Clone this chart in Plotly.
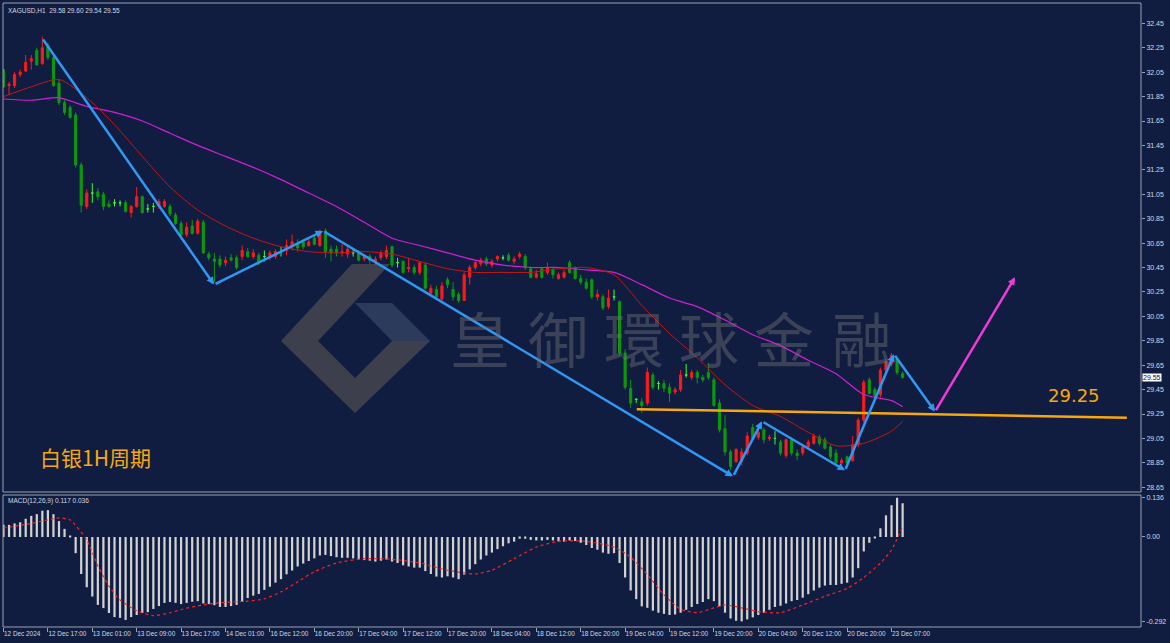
import plotly.graph_objects as go

W, H = 1170, 643


def px(x):
    return x / W


def py(y):
    return 1 - y / H


# ---------------- data ----------------
time_labels = ["12 Dec 2024", "12 Dec 17:00", "13 Dec 01:00", "13 Dec 09:00", "13 Dec 17:00",
               "14 Dec 01:00", "16 Dec 12:00", "16 Dec 20:00", "17 Dec 04:00", "17 Dec 12:00",
               "17 Dec 20:00", "18 Dec 04:00", "18 Dec 12:00", "18 Dec 20:00", "19 Dec 04:00",
               "19 Dec 12:00", "19 Dec 20:00", "20 Dec 04:00", "20 Dec 12:00", "20 Dec 20:00",
               "23 Dec 07:00"]
label_bars = [0, 8, 16, 24, 32, 40, 48, 56, 64, 72, 80, 88, 96, 104, 112, 120, 128, 136, 144, 152, 160]

opens = [32.07, 31.94, 31.94, 32.03, 32.06, 32.14, 32.23, 32.12, 32.27, 32.17,
         31.96, 31.80, 31.76, 31.70, 31.29, 30.95, 31.06, 31.07, 31.05, 30.97,
         30.98, 30.98, 30.98, 30.90, 30.95, 31.03, 30.93, 30.95, 30.95, 30.95,
         30.95, 30.88, 30.81, 30.72, 30.79, 30.73, 30.82, 30.56, 30.52, 30.52,
         30.49, 30.53, 30.53, 30.54, 30.58, 30.54, 30.55, 30.54, 30.54, 30.54,
         30.58, 30.59, 30.62, 30.65, 30.66, 30.63, 30.69, 30.63, 30.75, 30.60,
         30.60, 30.57, 30.56, 30.57, 30.57, 30.52, 30.54, 30.50, 30.53, 30.54,
         30.62, 30.49, 30.50, 30.44, 30.45, 30.41, 30.47, 30.24, 30.27, 30.19,
         30.35, 30.27, 30.23, 30.18, 30.37, 30.45, 30.48, 30.52, 30.47, 30.52,
         30.53, 30.55, 30.50, 30.54, 30.54, 30.44, 30.37, 30.44, 30.41, 30.43,
         30.36, 30.37, 30.49, 30.45, 30.36, 30.33, 30.35, 30.21, 30.21, 30.13,
         30.21, 30.17, 29.75, 29.46, 29.37, 29.35, 29.34, 29.57, 29.50, 29.50,
         29.47, 29.43, 29.45, 29.57, 29.55, 29.59, 29.55, 29.59, 29.53, 29.34,
         29.13, 28.94, 28.86, 28.86, 28.93, 29.14, 29.06, 29.12, 29.05, 29.05,
         29.02, 28.91, 29.04, 28.93, 28.93, 28.98, 29.01, 29.06, 29.04, 28.98,
         28.93, 28.85, 28.90, 28.87, 29.00, 29.20, 29.53, 29.45, 29.41, 29.61,
         29.66, 29.70, 29.58]
highs = [32.08, 31.97, 32.05, 32.07, 32.19, 32.19, 32.25, 32.34, 32.29, 32.18,
         31.99, 31.82, 31.78, 31.72, 31.31, 31.09, 31.14, 31.10, 31.07, 31.00,
         31.01, 31.00, 31.00, 30.96, 31.11, 31.04, 30.97, 30.98, 31.01, 31.01,
         30.97, 30.90, 30.83, 30.82, 30.84, 30.85, 30.84, 30.58, 30.57, 30.55,
         30.54, 30.56, 30.55, 30.63, 30.61, 30.60, 30.57, 30.59, 30.59, 30.60,
         30.62, 30.68, 30.72, 30.68, 30.68, 30.69, 30.71, 30.76, 30.77, 30.63,
         30.63, 30.64, 30.63, 30.60, 30.59, 30.56, 30.56, 30.54, 30.59, 30.63,
         30.63, 30.53, 30.51, 30.53, 30.47, 30.50, 30.49, 30.31, 30.30, 30.33,
         30.37, 30.33, 30.25, 30.41, 30.47, 30.50, 30.53, 30.54, 30.52, 30.55,
         30.55, 30.57, 30.54, 30.58, 30.56, 30.46, 30.43, 30.45, 30.49, 30.45,
         30.41, 30.43, 30.51, 30.46, 30.39, 30.36, 30.36, 30.27, 30.23, 30.27,
         30.27, 30.18, 29.78, 29.53, 29.38, 29.38, 29.63, 29.59, 29.52, 29.53,
         29.50, 29.47, 29.61, 29.66, 29.61, 29.61, 29.57, 29.67, 29.55, 29.37,
         29.24, 28.96, 28.97, 28.97, 29.10, 29.17, 29.13, 29.14, 29.08, 29.11,
         29.04, 29.05, 29.06, 28.96, 29.00, 29.04, 29.09, 29.08, 29.06, 29.00,
         28.96, 28.89, 28.91, 29.07, 29.22, 29.53, 29.55, 29.47, 29.63, 29.70,
         29.75, 29.71, 29.60]
lows = [31.92, 31.86, 31.92, 32.01, 32.05, 32.07, 32.10, 32.11, 32.15, 31.93,
        31.78, 31.70, 31.67, 31.27, 30.90, 30.93, 30.98, 31.00, 30.92, 30.94,
        30.95, 30.95, 30.90, 30.86, 30.94, 30.89, 30.90, 30.90, 30.93, 30.94,
        30.87, 30.80, 30.70, 30.70, 30.72, 30.72, 30.56, 30.51, 30.33, 30.45,
        30.46, 30.50, 30.43, 30.51, 30.53, 30.52, 30.47, 30.50, 30.51, 30.52,
        30.54, 30.55, 30.59, 30.58, 30.60, 30.62, 30.63, 30.62, 30.53, 30.50,
        30.54, 30.54, 30.53, 30.54, 30.50, 30.50, 30.48, 30.47, 30.51, 30.52,
        30.45, 30.45, 30.40, 30.41, 30.39, 30.39, 30.27, 30.22, 30.19, 30.18,
        30.28, 30.18, 30.16, 30.18, 30.31, 30.43, 30.46, 30.46, 30.45, 30.50,
        30.51, 30.50, 30.48, 30.52, 30.43, 30.36, 30.36, 30.36, 30.39, 30.36,
        30.35, 30.36, 30.40, 30.35, 30.31, 30.27, 30.19, 30.18, 30.10, 30.11,
        30.18, 29.73, 29.45, 29.30, 29.34, 29.26, 29.32, 29.45, 29.45, 29.43,
        29.35, 29.41, 29.43, 29.55, 29.53, 29.50, 29.51, 29.53, 29.31, 29.10,
        28.91, 28.79, 28.85, 28.83, 28.91, 29.04, 29.04, 29.01, 29.03, 29.00,
        28.91, 28.89, 28.91, 28.87, 28.91, 28.96, 29.00, 28.99, 28.96, 28.88,
        28.83, 28.83, 28.82, 28.86, 28.98, 29.18, 29.41, 29.37, 29.39, 29.59,
        29.64, 29.57, 29.54]
closes = [31.93, 31.95, 32.03, 32.05, 32.13, 32.16, 32.11, 32.25, 32.17, 31.94,
          31.80, 31.72, 31.68, 31.29, 30.96, 31.06, 31.06, 31.03, 30.95, 30.95,
          30.98, 30.98, 30.91, 30.95, 31.03, 30.90, 30.93, 30.95, 30.99, 30.99,
          30.89, 30.81, 30.72, 30.78, 30.73, 30.83, 30.57, 30.53, 30.50, 30.47,
          30.51, 30.51, 30.45, 30.59, 30.54, 30.57, 30.49, 30.54, 30.57, 30.58,
          30.58, 30.63, 30.66, 30.61, 30.62, 30.66, 30.64, 30.73, 30.58, 30.57,
          30.57, 30.58, 30.60, 30.57, 30.51, 30.54, 30.51, 30.52, 30.57, 30.59,
          30.47, 30.49, 30.41, 30.45, 30.41, 30.49, 30.28, 30.28, 30.21, 30.30,
          30.31, 30.21, 30.18, 30.39, 30.45, 30.49, 30.51, 30.48, 30.50, 30.54,
          30.53, 30.51, 30.52, 30.56, 30.45, 30.37, 30.40, 30.37, 30.45, 30.39,
          30.39, 30.41, 30.41, 30.36, 30.33, 30.28, 30.21, 30.23, 30.12, 30.20,
          30.21, 29.75, 29.47, 29.34, 29.37, 29.32, 29.59, 29.47, 29.50, 29.46,
          29.42, 29.45, 29.57, 29.57, 29.59, 29.55, 29.53, 29.55, 29.32, 29.12,
          28.94, 28.82, 28.96, 28.94, 29.07, 29.05, 29.10, 29.04, 29.06, 29.05,
          28.93, 29.04, 28.93, 28.91, 28.98, 29.02, 29.07, 29.01, 28.97, 28.90,
          28.85, 28.87, 28.85, 29.00, 29.20, 29.51, 29.42, 29.40, 29.61, 29.68,
          29.73, 29.59, 29.55]
bar_index = list(range(len(closes)))

ma_index = [0, 5, 10, 15, 20, 25, 30, 35, 40, 45, 50, 55, 60, 65, 70, 75, 80, 85, 90, 95,
            100, 105, 110, 115, 120, 125, 130, 135, 140, 145, 150, 155, 160, 162]
ma_fast = [31.85, 31.93, 31.99, 31.84, 31.62, 31.36, 31.11, 30.92, 30.79, 30.69,
           30.62, 30.58, 30.57, 30.58, 30.56, 30.50, 30.44, 30.41, 30.41, 30.41,
           30.44, 30.45, 30.39, 30.14, 29.91, 29.71, 29.49, 29.32, 29.23, 29.10,
           28.99, 29.01, 29.11, 29.19]
ma_slow = [31.83, 31.82, 31.84, 31.77, 31.72, 31.65, 31.55, 31.45, 31.36, 31.27,
           31.17, 31.06, 30.95, 30.82, 30.69, 30.63, 30.57, 30.51, 30.47, 30.45,
           30.45, 30.43, 30.41, 30.31, 30.20, 30.13, 30.02, 29.90, 29.81, 29.69,
           29.58, 29.41, 29.36, 29.31]

macd_hist = [0.042, 0.042, 0.047, 0.051, 0.063, 0.073, 0.079, 0.091, 0.093, 0.079,
             0.055, 0.028, 0.003, -0.056, -0.128, -0.174, -0.206, -0.235, -0.246, -0.263,
             -0.277, -0.280, -0.287, -0.277, -0.270, -0.263, -0.260, -0.249, -0.239, -0.228,
             -0.225, -0.228, -0.232, -0.228, -0.224, -0.222, -0.230, -0.232, -0.236, -0.242,
             -0.242, -0.239, -0.235, -0.225, -0.211, -0.203, -0.197, -0.183, -0.172, -0.158,
             -0.146, -0.129, -0.116, -0.102, -0.092, -0.083, -0.074, -0.064, -0.062, -0.066,
             -0.070, -0.072, -0.072, -0.074, -0.078, -0.080, -0.082, -0.085, -0.082, -0.078,
             -0.085, -0.090, -0.098, -0.102, -0.106, -0.106, -0.118, -0.128, -0.137, -0.140,
             -0.136, -0.140, -0.146, -0.130, -0.112, -0.094, -0.078, -0.064, -0.054, -0.042,
             -0.032, -0.022, -0.016, -0.006, -0.006, -0.010, -0.012, -0.012, -0.010, -0.012,
             -0.015, -0.016, -0.012, -0.014, -0.020, -0.028, -0.038, -0.044, -0.054, -0.058,
             -0.056, -0.090, -0.140, -0.185, -0.215, -0.240, -0.245, -0.255, -0.262, -0.266,
             -0.270, -0.268, -0.262, -0.252, -0.242, -0.232, -0.225, -0.215, -0.222, -0.240,
             -0.262, -0.282, -0.290, -0.292, -0.285, -0.278, -0.270, -0.262, -0.252, -0.242,
             -0.238, -0.230, -0.222, -0.218, -0.210, -0.198, -0.185, -0.175, -0.168, -0.166,
             -0.166, -0.162, -0.158, -0.140, -0.108, -0.050, -0.020, -0.004, 0.030, 0.075,
             0.110, 0.136, 0.117]
signal_index = [0, 5, 10, 12, 15, 17, 19, 21, 24, 27, 30, 33, 37, 40, 44, 47, 50, 53, 56, 60,
                65, 70, 75, 80, 85, 88, 92, 96, 100, 105, 110, 113, 116, 119, 122, 125, 128,
                130, 133, 136, 140, 144, 148, 152, 155, 158, 160, 162]
signal_vals = [0.031, 0.047, 0.066, 0.059, -0.010, -0.100, -0.170, -0.218, -0.255, -0.272,
               -0.262, -0.246, -0.232, -0.226, -0.222, -0.214, -0.190, -0.155, -0.120, -0.090,
               -0.075, -0.077, -0.090, -0.115, -0.128, -0.115, -0.075, -0.035, -0.015, -0.015,
               -0.035, -0.070, -0.130, -0.200, -0.250, -0.262, -0.245, -0.235, -0.245, -0.258,
               -0.262, -0.235, -0.205, -0.178, -0.140, -0.090, -0.045, 0.036]

price_ticks = [28.65, 28.85, 29.05, 29.25, 29.45, 29.65, 29.85, 30.05, 30.25, 30.45,
               30.65, 30.85, 31.05, 31.25, 31.45, 31.65, 31.85, 32.05, 32.25, 32.45]
macd_ticks = [0.136, 0.0, -0.292]
macd_tick_text = ["0.136", "0.00", "-0.292"]

# analyst drawings (bar index, price)
zigzag_bars = [6.94, 37.93, 57.57, 131.44, 136.67, 151.62, 160.45, 167.84]
zigzag_prices = [32.33, 30.31, 30.75, 28.74, 29.19, 28.79, 29.74, 29.27]
target_bar, target_price = 182.25, 30.37
support_bars = [114.1, 202.4]
support_prices = [29.29, 29.22]
support_level = "29.25"
last_price = 29.55

# ---------------- style ----------------
BG = "#101d40"
FRAME = "#9aa2b4"
TXT = "#d4d8e2"
UP = "#ff1a1a"
DOWN = "#0b9a0b"
DOJI = "#33ff33"
BLUE = "#2f98f5"
ORANGE = "#f7a80d"
MAGENTA = "#f03ad8"
FONT = "Liberation Sans"

fig = go.Figure()

normal = [i for i in bar_index if opens[i] != closes[i]]
dojis = [i for i in bar_index if opens[i] == closes[i]]

fig.add_trace(go.Candlestick(
    x=[bar_index[i] for i in normal], open=[opens[i] for i in normal],
    high=[highs[i] for i in normal], low=[lows[i] for i in normal],
    close=[closes[i] for i in normal],
    increasing=dict(line=dict(color=UP, width=1), fillcolor=UP),
    decreasing=dict(line=dict(color=DOWN, width=1), fillcolor=DOWN),
    whiskerwidth=0, hoverinfo="skip", showlegend=False, xaxis="x", yaxis="y"))
fig.add_trace(go.Candlestick(
    x=[bar_index[i] for i in dojis], open=[opens[i] for i in dojis],
    high=[highs[i] for i in dojis], low=[lows[i] for i in dojis],
    close=[closes[i] for i in dojis],
    increasing=dict(line=dict(color=DOJI, width=1), fillcolor=DOJI),
    decreasing=dict(line=dict(color=DOJI, width=1), fillcolor=DOJI),
    whiskerwidth=0, hoverinfo="skip", showlegend=False, xaxis="x", yaxis="y"))

fig.add_trace(go.Scatter(x=ma_index, y=ma_slow, mode="lines",
                         line=dict(color="#d21ed2", width=1.2, shape="spline", smoothing=0.7),
                         hoverinfo="skip", showlegend=False, xaxis="x", yaxis="y"))
fig.add_trace(go.Scatter(x=ma_index, y=ma_fast, mode="lines",
                         line=dict(color="#c81414", width=1, shape="spline", smoothing=0.7),
                         hoverinfo="skip", showlegend=False, xaxis="x", yaxis="y"))

fig.add_trace(go.Bar(x=bar_index, y=macd_hist, width=0.4, marker=dict(color="#d2d2d2", line=dict(width=0)),
                     hoverinfo="skip", showlegend=False, xaxis="x", yaxis="y2"))
fig.add_trace(go.Scatter(x=signal_index, y=signal_vals, mode="lines",
                         line=dict(color="#ff2020", width=1.2, dash="dot", shape="spline", smoothing=0.6),
                         hoverinfo="skip", showlegend=False, xaxis="x", yaxis="y2"))

shapes = []


def poly(pts, color):
    path = "M " + " L ".join(f"{px(x):.5f},{py(y):.5f}" for x, y in pts) + " Z"
    return dict(type="path", path=path, xref="paper", yref="paper", fillcolor=color,
                line=dict(width=0), layer="below")


# watermark logo (decorative)
shapes.append(poly([(281, 341), (352, 264), (390, 264), (318, 341), (355, 378), (355, 413)], "#3d404c"))
shapes.append(poly([(355, 303), (392, 303), (430, 341), (392, 341)], "#2c3a5c"))
shapes.append(poly([(355, 413), (355, 378), (392, 341), (430, 341)], "#3d404c"))

# panel frames
shapes.append(dict(type="rect", xref="paper", yref="paper", x0=px(3), x1=px(1141), y0=py(492), y1=py(3),
                   line=dict(color=FRAME, width=1)))
shapes.append(dict(type="rect", xref="paper", yref="paper", x0=px(3), x1=px(1141), y0=py(627), y1=py(495),
                   line=dict(color=FRAME, width=1)))
# support line
shapes.append(dict(type="line", xref="x", yref="y", x0=support_bars[0], x1=support_bars[1],
                   y0=support_prices[0], y1=support_prices[1], line=dict(color=ORANGE, width=2.5)))

annotations = []
for i in range(len(zigzag_bars) - 1):
    annotations.append(dict(x=zigzag_bars[i + 1], y=zigzag_prices[i + 1], ax=zigzag_bars[i], ay=zigzag_prices[i],
                            xref="x", yref="y", axref="x", ayref="y", text="", showarrow=True,
                            arrowhead=2, arrowsize=0.6, arrowwidth=2.5, arrowcolor=BLUE, standoff=0))
annotations.append(dict(x=target_bar, y=target_price, ax=zigzag_bars[-1], ay=zigzag_prices[-1],
                        xref="x", yref="y", axref="x", ayref="y", text="", showarrow=True,
                        arrowhead=2, arrowsize=0.6, arrowwidth=2.5, arrowcolor=MAGENTA, standoff=0))

wm_chars = ["皇", "御", "環", "球", "金", "融"]
wm_x = [480, 558, 634, 709, 784, 862]
for ch, xx in zip(wm_chars, wm_x):
    annotations.append(dict(x=px(xx), y=py(336), xref="paper", yref="paper", text=ch, showarrow=False,
                            font=dict(family="Noto Sans CJK TC", size=60, color="rgba(112,112,118,0.45)"),
                            xanchor="center", yanchor="middle"))

annotations.append(dict(x=px(6), y=py(10), xref="paper", yref="paper", text="XAGUSD,H1&nbsp; 29.58 29.60 29.54 29.55",
                        showarrow=False, xanchor="left", yanchor="middle", font=dict(family=FONT, size=6.5, color=TXT)))
annotations.append(dict(x=px(6), y=py(501), xref="paper", yref="paper", text="MACD(12,26,9) 0.117 0.036",
                        showarrow=False, xanchor="left", yanchor="middle", font=dict(family=FONT, size=6.5, color=TXT)))
annotations.append(dict(x=px(38), y=py(457), xref="paper", yref="paper", text="白银1H周期",
                        showarrow=False, xanchor="left", yanchor="middle",
                        font=dict(family="Noto Sans CJK SC", size=21, color=ORANGE)))
annotations.append(dict(x=px(1046), y=py(396), xref="paper", yref="paper", text=support_level,
                        showarrow=False, xanchor="left", yanchor="middle",
                        font=dict(family="DejaVu Sans", size=18, color=ORANGE)))
annotations.append(dict(x=px(1142), y=last_price, xref="paper", yref="y", text=f"{last_price:.2f}",
                        showarrow=False, xanchor="left", yanchor="middle", bgcolor="#ffffff",
                        borderpad=0, font=dict(family=FONT, size=7, color="#101010")))

fig.update_layout(
    width=W, height=H, margin=dict(l=0, r=0, t=0, b=0, autoexpand=False),
    paper_bgcolor=BG, plot_bgcolor=BG, showlegend=False, boxgap=0.45,
    shapes=shapes, annotations=annotations,
    xaxis=dict(domain=[px(3), px(1141)], range=[-0.09, 204.95], anchor="y2", automargin=False,
               tickvals=label_bars, ticktext=time_labels, ticks="outside", ticklen=4, tickangle=0,
               tickcolor=FRAME, ticklabelposition="outside right",
               tickfont=dict(family=FONT, size=6.4, color=TXT),
               showgrid=False, zeroline=False, showline=False, rangeslider=dict(visible=False), fixedrange=True),
    yaxis=dict(domain=[py(492), py(3)], range=[28.6115, 32.6164], side="right", anchor="x", automargin=False,
               tickvals=price_ticks, ticktext=[f"{v:.2f}" for v in price_ticks], ticks="outside", ticklen=3,
               tickcolor=FRAME, tickfont=dict(family=FONT, size=7, color=TXT),
               showgrid=False, zeroline=False, showline=False),
    yaxis2=dict(domain=[py(627), py(494.5)], range=[-0.3114, 0.147], side="right", anchor="x", automargin=False,
                tickvals=macd_ticks, ticktext=macd_tick_text, ticks="outside", ticklen=3,
                tickcolor=FRAME, tickfont=dict(family=FONT, size=7, color=TXT),
                showgrid=False, zeroline=False, showline=False),
)

fig.write_html("out.html")
